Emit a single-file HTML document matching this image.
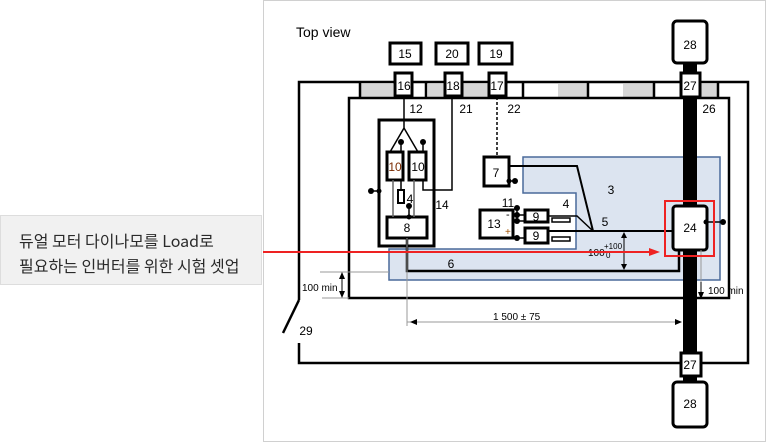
<!DOCTYPE html>
<html><head><meta charset="utf-8"><style>
html,body{margin:0;padding:0;background:#fff;}
body{width:766px;height:442px;position:relative;overflow:hidden;font-family:"Liberation Sans","Noto Sans CJK KR",sans-serif;}
.lbl{position:absolute;left:0;top:215px;width:262px;height:70px;background:#f1f1f1;border:1px solid #ddd;box-sizing:border-box;color:#2a2a2a;font-size:16px;line-height:25px;padding:12px 0 0 18px;font-family:"Noto Sans CJK KR","NanumGothic",sans-serif;}
svg{position:absolute;left:0;top:0;}
</style></head><body>
<svg width="766" height="442" viewBox="0 0 766 442" font-family="Liberation Sans, sans-serif">
<rect x="263.5" y="0.5" width="502" height="441" fill="#fff" stroke="#d0d0d0"/>
<text x="296" y="37" font-size="14">Top view</text>
<polygon points="523,157 720,157 720,280 389,280 389,249 576,249 576,193 523,193" fill="#dce4f0" stroke="#4a6a9a" stroke-width="1.5"/>
<rect x="299" y="82" width="449" height="16" fill="#fff"/>
<g fill="#d6d6d6">
<rect x="361" y="84" width="32" height="13"/><rect x="428" y="84" width="17" height="13"/><rect x="463" y="84" width="25" height="13"/>
<rect x="558" y="84" width="29" height="13"/><rect x="623" y="84" width="30" height="13"/><rect x="700" y="84" width="17" height="13"/>
</g>
<g stroke="#000" stroke-width="2.5" fill="none">
<line x1="360" y1="82" x2="360" y2="98"/><line x1="426" y1="82" x2="426" y2="98"/><line x1="523" y1="82" x2="523" y2="98"/>
<line x1="588" y1="82" x2="588" y2="98"/><line x1="654" y1="82" x2="654" y2="98"/><line x1="718" y1="82" x2="718" y2="98"/>
<polyline points="299,300 299,82 748,82 748,363 299,363 299,343"/>
<line x1="299" y1="300" x2="283" y2="333"/>
<rect x="349" y="98" width="380" height="200"/>
<rect x="379" y="120" width="55" height="126" stroke-width="3"/>
</g>
<rect x="683" y="60" width="14" height="345" fill="#000"/>
<g stroke="#000" stroke-width="3" fill="#fff">
<rect x="390" y="43" width="31" height="21"/><rect x="436" y="43" width="32" height="21"/><rect x="479" y="43" width="33" height="21"/>
<rect x="395" y="73" width="17" height="23"/><rect x="445" y="73" width="17" height="23"/><rect x="489" y="73" width="17" height="23"/>
<rect x="681" y="73" width="19" height="24"/><rect x="681" y="353" width="20" height="23"/>
<rect x="673" y="21" width="34" height="42" rx="4"/><rect x="673" y="382" width="34" height="45" rx="4"/>
<rect x="387" y="152" width="16" height="28"/><rect x="409" y="152" width="17" height="28"/>
<rect x="387" y="217" width="40" height="21"/>
<rect x="398" y="190" width="6" height="13" stroke-width="2"/>
<rect x="484" y="157" width="25" height="29"/>
<rect x="480" y="210" width="33" height="28"/>
<rect x="525" y="210" width="23" height="12"/><rect x="525" y="228" width="23" height="15"/>
<rect x="552" y="218" width="18" height="4" stroke-width="1.5"/><rect x="552" y="237" width="18" height="4" stroke-width="1.5"/>
<rect x="673" y="206" width="34" height="44" rx="3"/>
</g>
<g font-size="12" text-anchor="middle">
<text x="405" y="58">15</text><text x="452" y="58">20</text><text x="496" y="58">19</text>
<text x="404" y="90">16</text><text x="453" y="90">18</text><text x="497" y="90">17</text>
<text x="690" y="90">27</text><text x="690" y="369">27</text>
<text x="690" y="49">28</text><text x="690" y="408">28</text>
<text x="395" y="171" fill="#7a2a00">10</text><text x="418" y="171">10</text>
<text x="407" y="232">8</text><text x="496" y="177">7</text>
<text x="494" y="228">13</text><text x="536" y="221">9</text><text x="536" y="240">9</text>
<text x="690" y="232">24</text>
<text x="416" y="113">12</text><text x="466" y="113">21</text><text x="514" y="113">22</text><text x="709" y="113">26</text>
<text x="442" y="209">14</text><text x="508" y="207">11</text><text x="566" y="208">4</text>
<text x="605" y="226">5</text><text x="611" y="194">3</text><text x="451" y="268">6</text>
<text x="306" y="335">29</text><text x="410" y="203">4</text>
</g>
<text x="506" y="218" font-size="11">-</text><text x="505" y="235" font-size="10" fill="#a05000">+</text>
<g stroke="#000" stroke-width="1.5" fill="none">
<polyline points="404,97 404,128 390,152"/><line x1="404" y1="128" x2="418" y2="152"/>
<line x1="401" y1="142" x2="401" y2="152"/><line x1="423" y1="142" x2="423" y2="152"/>
<polyline points="423,180 423,190 452,190 452,97"/>
<line x1="393" y1="180" x2="393" y2="217" stroke="#666"/><line x1="414" y1="180" x2="414" y2="217" stroke="#666"/>
<line x1="409" y1="206" x2="409" y2="217"/><line x1="401" y1="180" x2="401" y2="190"/>
<line x1="371" y1="191" x2="379" y2="191"/>
<line x1="497" y1="97" x2="497" y2="157" stroke-dasharray="3,2"/>
<line x1="509" y1="181" x2="515" y2="181"/>
<polyline points="509,166 577,166 593,231 673,231" stroke-width="2"/>
<polyline points="548,216 577,216 593,231"/>
<line x1="548" y1="231" x2="593" y2="231" stroke-width="2"/>
<line x1="517" y1="215" x2="525" y2="215"/><line x1="517" y1="221" x2="525" y2="221"/><line x1="517" y1="238" x2="525" y2="238"/>
<line x1="517" y1="208" x2="517" y2="221"/>
<polyline points="407,238 407,271 679,271 679,250" stroke-width="2.5"/>
<line x1="707" y1="222" x2="723" y2="222"/>
</g>
<g fill="#000">
<circle cx="401" cy="142" r="3"/><circle cx="423" cy="142" r="3"/><circle cx="409" cy="206" r="3"/><circle cx="409" cy="217" r="2.5"/>
<circle cx="371" cy="191" r="3"/><circle cx="379" cy="191" r="2.5"/>
<circle cx="509" cy="181" r="2.5"/><circle cx="515" cy="181" r="3"/>
<circle cx="517" cy="208" r="3"/><circle cx="517" cy="215" r="3"/><circle cx="517" cy="221" r="3"/><circle cx="517" cy="238" r="3"/>
<circle cx="706" cy="222" r="2.5"/><circle cx="723" cy="222" r="3"/>
</g>
<g stroke="#999" stroke-width="1" fill="none">
<line x1="407" y1="238" x2="407" y2="326"/><line x1="407" y1="322" x2="680" y2="322"/>
<line x1="320" y1="272" x2="389" y2="272"/><line x1="322" y1="298" x2="349" y2="298"/>
<line x1="701" y1="250" x2="701" y2="298"/>
</g>
<g stroke="#000" stroke-width="1">
<line x1="342" y1="275" x2="342" y2="296"/><line x1="624" y1="234" x2="624" y2="268"/><line x1="701" y1="282" x2="701" y2="296"/>
</g>
<g fill="#000">
<polygon points="342,272 339,279 345,279"/><polygon points="342,298 339,291 345,291"/>
<polygon points="624,232 621,238 627,238"/><polygon points="624,270 621,264 627,264"/>
<polygon points="701,299 698,292 704,292"/>
<polygon points="410,322 417,319 417,325"/><polygon points="682,322 675,319 675,325"/>
</g>
<text x="302" y="291" font-size="10">100 min</text>
<text x="708" y="294" font-size="10">100 min</text>
<text x="493" y="320" font-size="10">1 500 ± 75</text>
<text x="588" y="256" font-size="10">100</text><text x="604" y="249" font-size="8">+100</text><text x="606" y="258" font-size="8">0</text>
<line x1="263" y1="252" x2="652" y2="252" stroke="#ee2222" stroke-width="2"/>
<polygon points="660,252 649,248 649,256" fill="#ee2222"/>
<rect x="665" y="201" width="49" height="55" fill="none" stroke="#ee2222" stroke-width="2"/>
</svg>
<div class="lbl">듀얼 모터 다이나모를 Load로<br>필요하는 인버터를 위한 시험 셋업</div>
</body></html>
